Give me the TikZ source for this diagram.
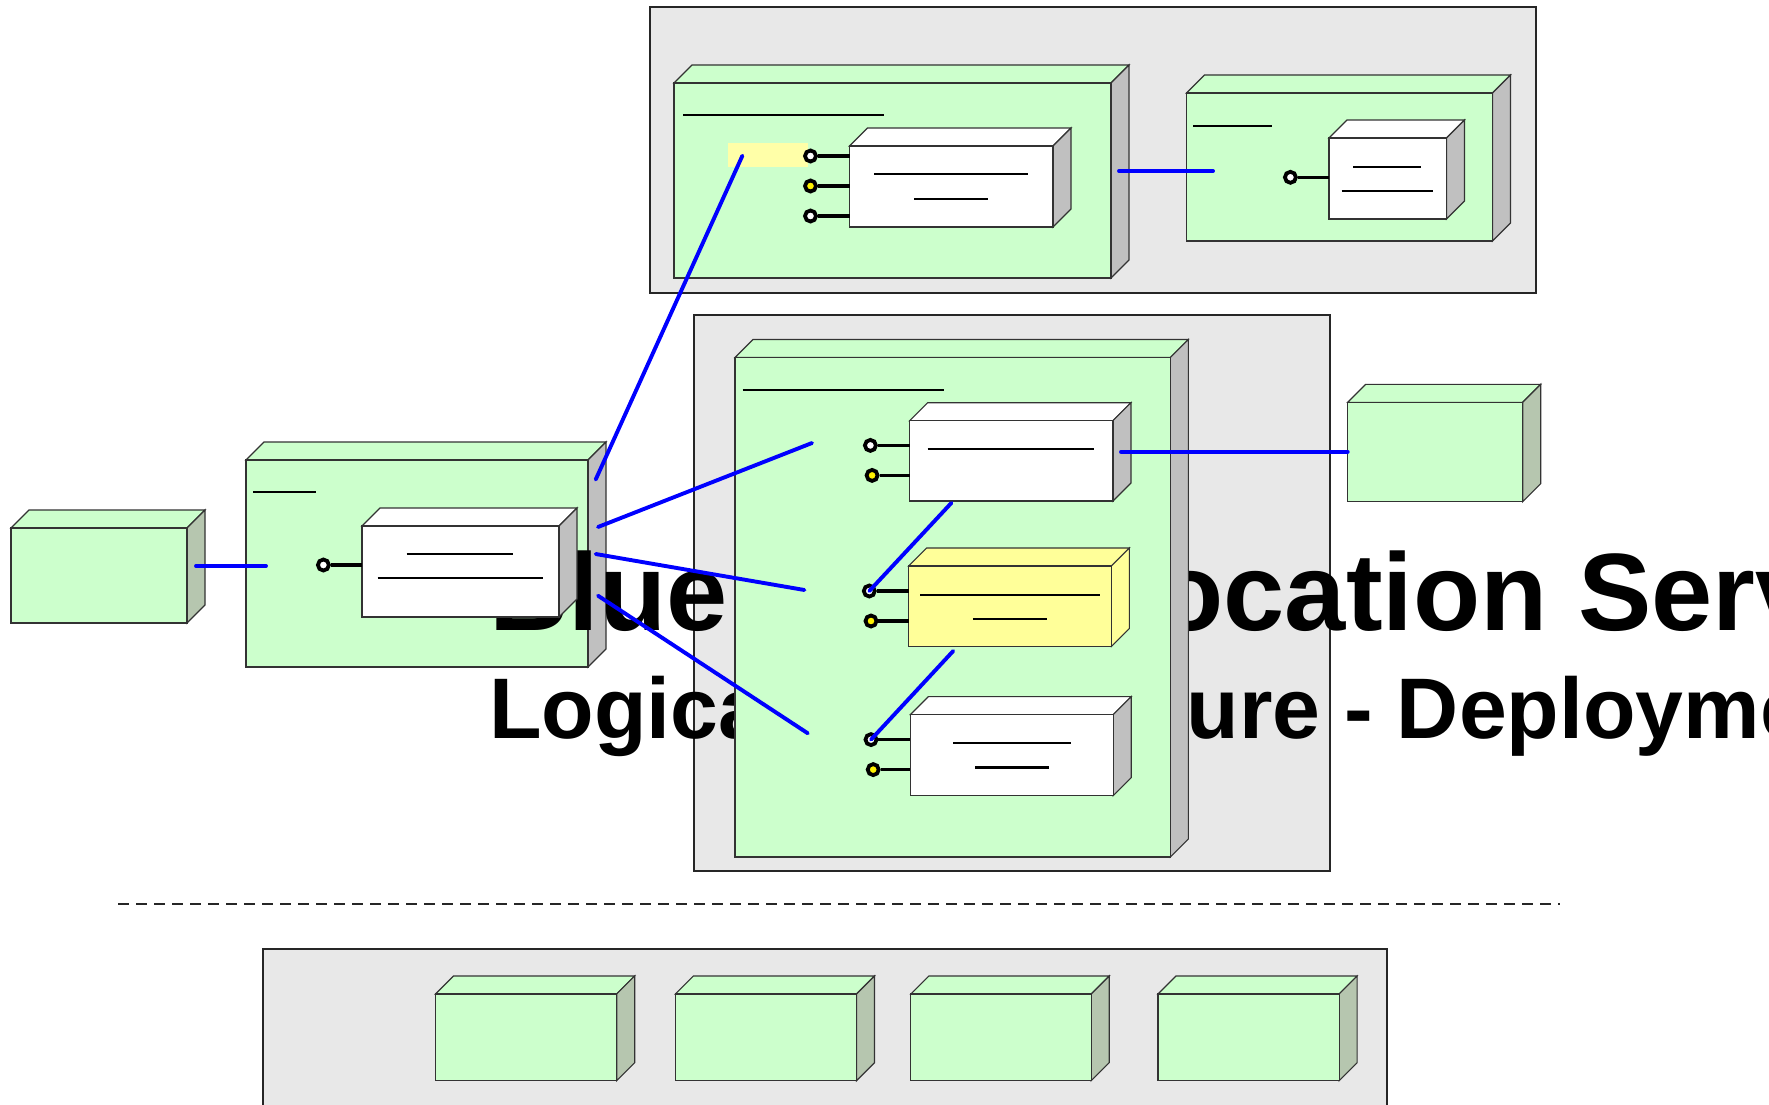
\documentclass[tikz,border=0pt]{standalone}
\usepackage{fontspec}
\newfontfamily\titlefont{Liberation Sans}
\definecolor{nodegreen}{HTML}{CCFFCC}
\definecolor{sidegray}{HTML}{C0C0C0}
\definecolor{sidegreen}{HTML}{B6C6AF}
\definecolor{contgray}{HTML}{E8E8E8}
\definecolor{compyellow}{HTML}{FFFF99}
\definecolor{noteyellow}{HTML}{FFFFA8}
\definecolor{linkblue}{HTML}{0000FF}
\tikzset{
  boxedge/.style={draw=black!80, line width=1.1pt},
  container/.style={draw=black!85, line width=1.4pt, fill=contgray},
  txtline/.style={draw=black, line width=2.2pt},
  portw/.style={circle, draw=black, line width=3.8pt, fill=white, minimum size=11pt, inner sep=0pt},
  porty/.style={portw, fill=yellow},
  stem/.style={draw=black, line width=3.4pt},
  link/.style={draw=linkblue, line width=3.9pt, line cap=round},
}
\newcommand{\mkbox}[8]{%
  \filldraw[boxedge, fill=#8] (#2,#3) -- (#2+18,#3-18) -- (#4+18,#3-18) -- (#4,#3) -- cycle;
  \filldraw[boxedge, fill=#7] (#4,#3) -- (#4+18,#3-18) -- (#4+18,#5-18) -- (#4,#5) -- cycle;
  \node[boxedge, fill=#6, anchor=north west, inner sep=0pt, outer sep=0pt,
        minimum width={(#4-#2)*1pt}, minimum height={(#5-#3)*1pt}] (#1) at (#2,#3) {};
}
\begin{document}
\begin{tikzpicture}[x={(1pt,0)}, y={(0,-1pt)}]
\useasboundingbox (0,0) rectangle (1769,1105);
\fill[white] (0,0) rectangle (1769,1105);

% leftmost external box
\mkbox{ext1}{11}{528}{187}{623}{nodegreen}{sidegreen}{nodegreen}
% client node
\mkbox{client}{246}{460}{588}{667}{nodegreen}{sidegray}{nodegreen}
\draw[txtline] (253,492) -- (316,492);

% containers (below the title)
\draw[container] (650,7) rectangle (1536,293);
\draw[container] (694,315) rectangle (1330,871);

% title (behind the shapes drawn later)
\node[anchor=base west, inner sep=0pt, outer sep=0pt] (title1) at (489,630)
  {\titlefont\bfseries\fontsize{110}{130}\selectfont Blue\hspace{362pt}Location Services};
\node[anchor=base west, inner sep=0pt, outer sep=0pt] (title2) at (489,738.3)
  {\titlefont\bfseries\fontsize{86}{100}\selectfont Logical Architecture - Deployment};

% client component
\mkbox{comp0}{362}{526}{559}{617}{white}{sidegray}{white}
\draw[txtline] (406.5,554) -- (513,554);
\draw[txtline] (377.6,578.3) -- (542.5,578.3);
\node[portw] (p0) at (323.4,565) {};
\draw[stem] (p0.east) -- (comp0.west |- p0);

% top container content
\mkbox{nodeA}{674}{83}{1111}{278}{nodegreen}{sidegray}{nodegreen}
\draw[txtline] (683,115) -- (884,115);
\fill[noteyellow] (728,143) rectangle (808,167);
\mkbox{compA}{849.5}{146}{1053}{227}{white}{sidegray}{white}
\draw[txtline] (874,174) -- (1028,174);
\draw[txtline] (914,199) -- (988,199);
\node[portw] (pA1) at (810.5,156) {};
\node[porty] (pA2) at (810.5,186) {};
\node[portw] (pA3) at (810.5,216) {};
\foreach \p in {pA1,pA2,pA3} \draw[stem] (\p.east) -- (compA.west |- \p);

\mkbox{nodeB}{1186.5}{93}{1492.5}{241}{nodegreen}{sidegray}{nodegreen}
\draw[txtline] (1193,126) -- (1271.5,126);
\mkbox{compB}{1329}{138}{1446.5}{219}{white}{sidegray}{white}
\draw[txtline] (1353,166.7) -- (1420.7,166.7);
\draw[txtline] (1341.5,191.3) -- (1433.3,191.3);
\node[portw] (pB1) at (1290.4,177.3) {};
\draw[stem] (pB1.east) -- (compB.west |- pB1);

% middle container content
\mkbox{nodeM}{735}{357.5}{1170.4}{857}{nodegreen}{sidegray}{nodegreen}
\draw[txtline] (742.5,390) -- (943.6,390);

\mkbox{comp1}{909.6}{420.7}{1113}{501}{white}{sidegray}{white}
\draw[txtline] (927.5,448.6) -- (1094.3,448.6);
\node[portw] (p11) at (870.4,445.4) {};
\node[porty] (p12) at (872.1,475.4) {};

\mkbox{comp2}{908.6}{566}{1111.4}{646.4}{compyellow}{compyellow}{compyellow}
\draw[txtline] (920,594.6) -- (1100.4,594.6);
\draw[txtline] (972.9,619) -- (1047,619);
\node[portw] (p21) at (869.3,591) {};
\node[porty] (p22) at (871,621) {};

\mkbox{comp3}{910.4}{714.6}{1113.2}{795.7}{white}{sidegray}{white}
\draw[txtline] (953.2,743.2) -- (1071,743.2);
\draw[txtline] (975.4,767.5) -- (1048.6,767.5);
\node[portw] (p31) at (871,739.6) {};
\node[porty] (p32) at (873.2,769.6) {};

\draw[stem] (p11.east) -- (comp1.west |- p11);
\draw[stem] (p12.east) -- (comp1.west |- p12);
\draw[stem] (p21.east) -- (comp2.west |- p21);
\draw[stem] (p22.east) -- (comp2.west |- p22);
\draw[stem] (p31.east) -- (comp3.west |- p31);
\draw[stem] (p32.east) -- (comp3.west |- p32);

% right external box
\mkbox{ext2}{1347.7}{402.3}{1522.7}{501.7}{nodegreen}{sidegreen}{nodegreen}

% separator
\draw[black!85, line width=1.5pt, dash pattern=on 11pt off 7pt] (118,904) -- (1560,904);

% bottom container
\draw[container] (263,949) rectangle (1387,1130);
\mkbox{db1}{435.5}{994}{616.7}{1080.7}{nodegreen}{sidegreen}{nodegreen}
\mkbox{db2}{675.4}{994}{856.5}{1080.7}{nodegreen}{sidegreen}{nodegreen}
\mkbox{db3}{910.8}{994}{1091.2}{1080.7}{nodegreen}{sidegreen}{nodegreen}
\mkbox{db4}{1158}{994}{1339.1}{1080.7}{nodegreen}{sidegreen}{nodegreen}

% connector end points
\coordinate (e1a) at (196,566);    \coordinate (e1b) at (266,566);
\coordinate (cAa) at (595.7,479.5); \coordinate (cAb) at (742.4,155.7);
\coordinate (c1a) at (598,527);    \coordinate (c1b) at (812,443);
\coordinate (c2a) at (595.7,554);  \coordinate (c2b) at (804.4,590);
\coordinate (c3a) at (598,595.7);  \coordinate (c3b) at (807.8,733.3);
\coordinate (abA) at (1119,171);   \coordinate (abB) at (1213,171);
\coordinate (m1a) at (951.4,502.9);
\coordinate (m2a) at (953.2,651);
\coordinate (m1r) at (1121,451.8);

% blue links
\draw[link] (e1a) -- (e1b);
\draw[link] (cAa) -- (cAb);
\draw[link] (c1a) -- (c1b);
\draw[link] (c2a) -- (c2b);
\draw[link] (c3a) -- (c3b);
\draw[link] (abA) -- (abB);
\draw[link] (m1a) -- (p21.center);
\draw[link] (m2a) -- (p31.center);
\draw[link] (m1r) -- (ext2.west |- m1r);
\end{tikzpicture}
\end{document}
